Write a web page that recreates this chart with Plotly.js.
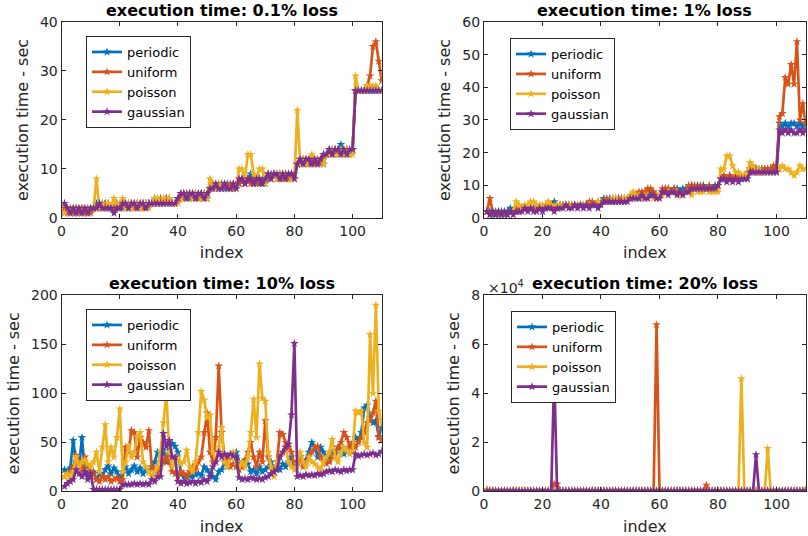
<!DOCTYPE html>
<html>
<head>
<meta charset="utf-8">
<script src="https://cdn.plot.ly/plotly-3.0.1.min.js"></script>
<style>html,body{margin:0;padding:0;background:#fff;}#chart{width:808px;height:536px;}</style>
</head>
<body>
<div id="chart"></div>
<script>
// ---------- data ----------
const seriesNames = ["periodic", "uniform", "poisson", "gaussian"];
const panelTitles = ["execution time: 0.1% loss", "execution time: 1% loss", "execution time: 10% loss", "execution time: 20% loss"];

// 0.1% loss
const periodic01 = [1,2,1,1,2,1,2,1,1,2, 2,3,2,3,3,2,2,2,3,2, 2,3,2,2,3,3,2,3,3,3, 3,4,3,3,3,4,3,3,3,4, 4,5,5,4,5,5,4,5,5,4, 6,7,6,6,7,6,7,6,6,7, 7,8,7,8,9,7,8,7,8,7, 8,9,9,8,9,8,9,8,8,9, 11,11,12,11,11,12,11,11,12,11, 13,13,14,13,14,15,13,14,13,14, 26,26,26,26,26,26,26,26,26,26];
const uniform01 = [2,1,2,1,2,1,2,1,2,1, 2,2,3,2,3,3,2,2,3,2, 3,2,3,3,2,3,3,2,3,3, 3,3,3,4,3,4,4,3,3,4, 5,4,5,5,4,5,4,5,5,4, 6,7,6,7,6,7,6,7,6,7, 7,8,7,8,7,8,7,8,7,8, 9,8,9,8,9,8,9,8,9,8, 11,12,11,12,11,12,11,12,11,13, 13,14,13,14,13,14,13,14,13,14, 26,26,26,26,27,29,35,36,32,28];
const poisson01 = [1,2,1,2,1,2,1,2,1,2, 2,8,2,3,2,3,2,4,3,3, 4,2,3,2,3,3,2,3,3,2, 3,4,4,3,4,3,4,3,3,3, 4,5,4,5,4,5,5,4,5,4, 8,7,6,7,6,7,6,6,7,6, 10,10,8,13,13,9,8,10,10,7, 9,8,9,8,9,9,8,9,8,8, 22,11,12,11,12,13,12,11,12,11, 13,13,14,13,13,14,13,14,13,13, 29,26,26,26,27,27,27,27,26,26];
const gaussian01 = [3,2,1,2,1,2,1,2,1,2, 2,2,3,2,2,2,2,1,2,2, 3,3,2,3,3,2,3,3,2,3, 3,3,3,3,3,3,3,3,3,4, 5,5,4,5,5,4,5,5,4,5, 6,6,7,6,6,7,6,6,7,6, 8,8,7,8,8,7,8,8,7,8, 9,8,9,9,8,9,8,9,9,8, 11,12,11,12,12,11,12,11,12,13, 13,14,13,14,14,13,14,13,14,14, 26,26,26,26,26,26,26,26,26,26];

// 1% loss
const periodic1 = [2,2,1,2,1,2,1,2,3,2, 2,3,3,3,3,3,3,3,3,3, 3,4,4,5,3,4,4,4,4,4, 4,4,4,4,4,4,4,4,4,5, 6,5,6,5,6,6,5,6,6,6, 7,7,6,7,7,8,8,7,7,7, 8,9,9,8,9,9,8,9,9,9, 10,9,10,9,10,9,9,9,10,10, 12,12,12,13,12,12,13,12,13,12, 15,15,15,15,15,15,15,15,15,15, 29,28,29,28,29,29,28,29,28,29];
const uniform1 = [2,6,2,1,2,1,2,1,2,2, 3,2,3,3,3,3,3,3,3,3, 3,4,4,4,3,4,4,4,4,4, 4,4,4,4,4,5,5,4,5,5, 5,6,5,6,5,6,6,5,6,6, 7,7,8,8,8,9,9,8,7,7, 9,9,9,8,9,8,7,8,8,10, 10,10,9,10,9,9,10,9,9,10, 12,13,12,13,12,13,12,13,12,13, 15,14,15,14,15,15,15,15,16,15, 31,32,43,41,47,41,54,30,35,29];
const poisson1 = [2,1,2,1,2,1,2,1,2,2, 5,4,3,4,4,5,5,4,4,4, 4,5,4,3,4,4,4,4,4,4, 4,4,4,4,4,4,4,4,5,5, 5,5,5,6,6,5,5,6,6,7, 8,7,7,6,7,7,7,6,7,7, 7,8,8,8,8,8,7,7,8,8, 7,9,8,8,8,9,8,8,8,8, 15,15,19,19,16,14,14,13,13,14, 17,16,14,15,14,14,14,14,14,14, 15,16,15,15,14,13,14,16,15,15];
const gaussian1 = [2,1,2,1,2,1,2,1,2,1, 2,2,2,3,2,3,2,2,3,2, 3,3,3,2,3,3,3,4,3,3, 4,3,4,3,4,3,4,4,3,4, 5,5,5,5,5,5,5,5,5,6, 6,6,6,7,6,6,7,7,6,6, 8,8,7,8,8,7,8,7,8,8, 9,9,9,9,9,9,9,9,9,10, 12,12,11,12,11,12,11,12,12,12, 14,14,14,14,14,14,14,14,14,14, 27,26,27,26,27,26,26,27,26,27];

// 10% loss
const periodic10 = [22,20,24,52,30,25,55,20,18,15, 20,12,18,15,22,26,18,24,20,14, 20,25,18,22,26,20,24,18,22,20, 25,30,40,38,42,30,45,49,46,40, 18,15,14,16,15,17,18,16,25,22, 18,15,12,20,22,30,25,35,38,40, 30,25,32,28,20,22,18,25,20,22, 25,30,20,25,22,28,25,30,35,28, 30,35,28,32,40,50,45,35,45,40, 35,32,40,38,45,42,38,40,45,50, 55,52,60,85,88,75,70,72,56,65];
const uniform10 = [15,18,20,25,37,30,22,35,25,20, 18,12,10,15,12,15,10,12,14,10, 12,45,40,62,60,35,55,50,45,62, 25,22,20,25,30,35,30,20,18,15, 20,18,15,20,25,22,30,35,60,80, 40,30,55,128,60,35,30,25,28,25, 22,25,30,40,50,35,25,40,30,72, 35,25,20,30,60,58,50,45,40,25, 30,35,25,30,35,40,45,46,35,30, 28,30,35,40,45,50,60,55,45,50, 45,50,55,60,70,72,80,92,55,52];
const poisson10 = [15,18,12,20,35,25,30,32,28,25, 30,40,20,45,68,30,45,35,55,84, 20,30,47,35,40,56,60,30,25,20, 15,20,25,40,70,100,40,25,30,35, 28,30,42,25,20,30,60,102,93,75, 78,40,30,45,65,30,25,35,40,30, 25,30,25,35,60,94,55,130,95,92, 40,25,15,30,35,40,45,30,25,22, 28,40,30,25,35,30,28,25,22,30, 35,40,53,35,30,40,45,42,38,40, 82,80,82,50,45,160,100,190,82,70];
const gaussian10 = [5,8,10,12,22,18,15,20,12,18, 2,2,2,2,2,2,2,2,2,2, 7,7,7,7,8,7,8,7,8,7, 12,10,15,15,59,46,52,35,35,10, 8,10,8,9,10,8,10,9,12,10, 15,25,30,40,35,38,36,38,36,35, 14,12,13,12,14,13,12,13,12,14, 15,18,20,22,35,40,45,48,78,151, 15,16,15,17,16,17,16,18,17,18, 20,21,20,22,21,20,22,21,22,22, 38,36,37,38,37,38,39,37,38,41];

// 20% loss
const periodic20 = [150,120,180,140,160,130,170,150,140,160, 180,150,130,170,160,140,150,170,160,140, 150,160,170,180,160,150,140,160,170,150, 160,150,140,170,160,150,180,160,150,170, 160,150,140,160,170,150,160,180,150,160, 170,160,150,140,160,170,150,160,170,160, 150,160,170,150,160,400,160,150,170,160, 150,160,170,160,150,160,170,150,160,170, 160,150,170,160,150,160,170,160,150,160, 170,160,150,160,170,160,150,160,170,160, 150,160,170,160,150,160,170,160,150,160];
const uniform20 = [600,200,400,200,300,200,150,200,180,500, 200,180,160,200,180,160,200,180,160,200, 180,160,200,3000,3000,200,150,200,100,200, 180,160,200,180,160,200,400,180,160,200, 180,160,200,180,160,200,300,180,160,200, 180,160,200,180,160,200,180,200,68000,200, 180,160,200,180,160,200,300,180,160,200, 180,160,200,180,160,2500,180,160,300,200, 180,160,200,180,160,200,180,160,200,180, 160,200,180,160,200,180,160,200,180,160, 200,180,160,200,180,160,200,180,160,200];
const poisson20 = [800,300,200,250,300,200,250,300,200,250, 300,200,250,300,200,250,300,200,250,300, 200,250,300,200,250,300,200,250,300,200, 250,300,200,250,300,200,250,300,200,250, 300,200,250,300,200,250,300,200,250,300, 200,250,300,200,250,300,200,250,300,200, 250,300,200,250,300,200,250,300,200,250, 300,200,250,300,200,250,300,200,250,300, 200,250,300,200,250,300,200,46000,250,300, 200,250,300,200,250,300,17500,250,300,200, 250,300,200,250,300,200,250,300,200,1000];
const gaussian20 = [100,120,90,110,100,120,90,110,100,120, 90,110,100,120,90,110,100,120,90,110, 100,120,90,48000,110,100,120,90,110,100, 120,90,110,100,120,90,110,100,120,90, 110,100,120,90,110,100,120,90,110,100, 120,90,110,100,120,90,110,100,120,90, 110,100,120,90,110,100,120,90,110,100, 120,90,110,100,120,90,110,100,120,90, 110,100,120,90,110,100,120,90,110,100, 120,90,15000,100,120,90,110,100,120,90, 110,100,120,90,110,100,120,90,110,100];

const panel4TickVals = [0, 20000, 40000, 60000, 80000];
const panel4TickText = ["0", "2", "4", "6", "8"];

// ---------- chart ----------
const colors = ["#0072BD", "#D95319", "#EDB120", "#7E2F8E"];
const panels = [
  [periodic01, uniform01, poisson01, gaussian01],
  [periodic1, uniform1, poisson1, gaussian1],
  [periodic10, uniform10, poisson10, gaussian10],
  [periodic20, uniform20, poisson20, gaussian20]
];
const index = Array.from({length: periodic01.length}, (_, i) => i + 1);

const FONT = "DejaVu Sans, Arial, sans-serif";
const INK = "#262626";
const traces = [];
panels.forEach((series, p) => {
  series.forEach((vals, s) => {
    traces.push({
      type: "scatter", mode: "lines+markers",
      x: index, y: vals, name: seriesNames[s],
      xaxis: p === 0 ? "x" : "x" + (p + 1),
      yaxis: p === 0 ? "y" : "y" + (p + 1),
      legend: p === 0 ? "legend" : "legend" + (p + 1),
      line: {color: colors[s], width: 2.7},
      marker: {color: colors[s], symbol: "star", size: 6.5},
      hoverinfo: "x+y+name"
    });
  });
});

const xDom = [[0.0762, 0.4724], [0.599, 0.9972], [0.0762, 0.4724], [0.599, 0.9972]];
const yDom = [[0.5933, 0.959], [0.5933, 0.959], [0.0834, 0.449], [0.0834, 0.449]];
const yRanges = [[0, 40], [0, 60], [0, 200], [0, 80000]];
const yDtick = [10, 10, 50, 20000];

const layout = {
  width: 808, height: 536,
  margin: {l: 0, r: 0, t: 0, b: 0},
  paper_bgcolor: "#ffffff", plot_bgcolor: "#ffffff",
  font: {family: FONT, size: 14, color: INK},
  showlegend: true,
  annotations: []
};
function axisBase() {
  return {
    showline: true, linecolor: INK, linewidth: 1, mirror: "ticks",
    ticks: "inside", ticklen: 4, tickcolor: INK, tickwidth: 1,
    showgrid: false, zeroline: false,
    tickfont: {family: FONT, size: 14, color: INK}
  };
}
const legendPos = [[0.1064, 0.9328], [0.6312, 0.929], [0.1064, 0.4235], [0.6324, 0.4198]];
for (let p = 0; p < 4; p++) {
  const xa = axisBase(), ya = axisBase();
  const xs = p === 0 ? "" : String(p + 1);
  xa.domain = xDom[p]; xa.anchor = "y" + xs; xa.range = [0, 110];
  xa.tickmode = "linear"; xa.tick0 = 0; xa.dtick = 20;
  xa.title = {text: "index", font: {family: FONT, size: 16, color: INK}, standoff: 9};
  ya.domain = yDom[p]; ya.anchor = "x" + xs; ya.range = yRanges[p];
  if (p === 3) { ya.tickmode = "array"; ya.tickvals = panel4TickVals; ya.ticktext = panel4TickText; }
  else { ya.tickmode = "linear"; ya.tick0 = 0; ya.dtick = yDtick[p]; }
  ya.title = {text: "execution time - sec", font: {family: FONT, size: 16, color: INK}, standoff: 7};
  layout["xaxis" + xs] = xa;
  layout["yaxis" + xs] = ya;
  layout["legend" + xs] = {
    x: legendPos[p][0], y: legendPos[p][1], xanchor: "left", yanchor: "top",
    xref: "paper", yref: "paper",
    bgcolor: "#ffffff", bordercolor: INK, borderwidth: 1,
    font: {family: FONT, size: 13, color: "#000000"},
    itemwidth: 30, tracegroupgap: 0
  };
  layout.annotations.push({
    text: "<b>" + panelTitles[p] + "</b>", showarrow: false,
    xref: "paper", yref: "paper",
    x: (xDom[p][0] + xDom[p][1]) / 2, y: p < 2 ? 0.981 : 0.472,
    xanchor: "center", yanchor: "middle",
    font: {family: FONT, size: 16, color: "#000000"}
  });
}
layout.annotations.push({
  text: "×10<sup>4</sup>", showarrow: false, xref: "paper", yref: "paper",
  x: 0.6015, y: 0.4646, xanchor: "left", yanchor: "middle",
  font: {family: FONT, size: 14, color: INK}
});

Plotly.newPlot("chart", traces, layout, {displayModeBar: false});
</script>
</body>
</html>
